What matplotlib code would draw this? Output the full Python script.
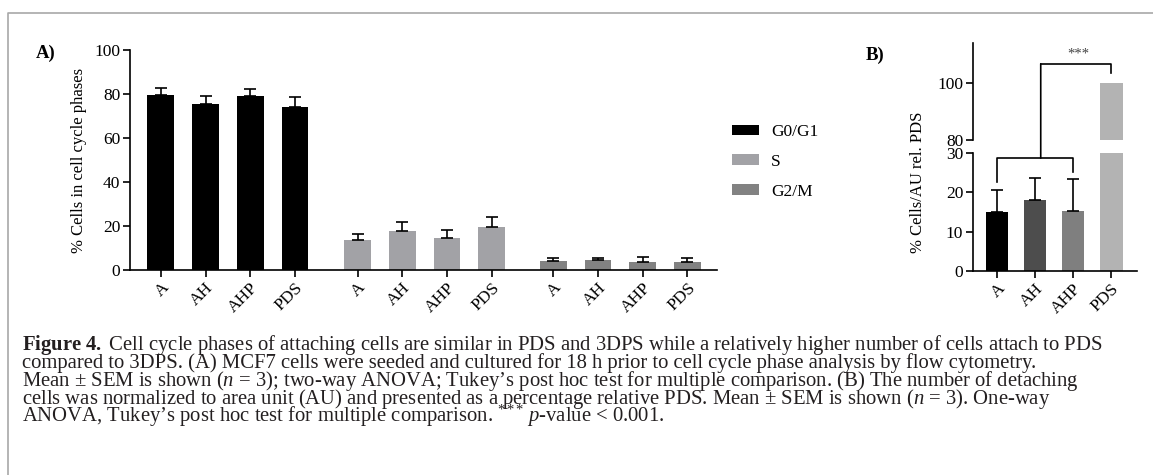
import numpy as np
import matplotlib
matplotlib.use("Agg")
import matplotlib.pyplot as plt
from matplotlib.lines import Line2D
from matplotlib.patches import ConnectionPatch

plt.rcParams["font.family"] = ["Liberation Serif", "DejaVu Serif"]
plt.rcParams["mathtext.fontset"] = "custom"
plt.rcParams["mathtext.rm"] = "Liberation Serif"
plt.rcParams["mathtext.it"] = "Liberation Serif:italic"
plt.rcParams["mathtext.bf"] = "Liberation Serif:bold"

# data
conditions = ["A", "AH", "AHP", "PDS"]
phases = ["G0/G1", "S", "G2/M"]
g0g1_mean = [79.7, 75.6, 78.9, 74.1]
g0g1_sem = [2.9, 3.6, 3.5, 4.4]
s_mean = [13.8, 17.7, 14.7, 19.7]
s_sem = [2.6, 4.3, 3.5, 4.2]
g2m_mean = [4.2, 4.4, 3.8, 3.6]
g2m_sem = [1.1, 1.2, 2.0, 1.7]
phase_colors = ["#000000", "#a2a2a6", "#828282"]

attach_mean = [15.0, 18.0, 15.3, 100.0]
attach_sem = [5.6, 5.6, 8.1, 0.0]
attach_colors = ["#000000", "#4d4d4d", "#7f7f7f", "#b3b3b3"]

caption = [
    r"$\mathbf{Figure\ 4.}$ Cell cycle phases of attaching cells are similar in PDS and 3DPS while a relatively higher number of cells attach to PDS",
    "compared to 3DPS. (A) MCF7 cells were seeded and cultured for 18 h prior to cell cycle phase analysis by flow cytometry.",
    r"Mean ± SEM is shown ($n$ = 3); two-way ANOVA; Tukey’s post hoc test for multiple comparison. (B) The number of detaching",
    r"cells was normalized to area unit (AU) and presented as a percentage relative PDS. Mean ± SEM is shown ($n$ = 3). One-way",
    r"ANOVA, Tukey’s post hoc test for multiple comparison. ${}^{{*}\,{*}\,{*}}$ $p$-value < 0.001.",
]

W, H = 1153, 475
fig = plt.figure(figsize=(W / 100, H / 100), dpi=100)


def box(x0, y0, x1, y1):
    return [x0 / W, 1 - y1 / H, (x1 - x0) / W, (y1 - y0) / H]


def style(ax):
    for s in ["top", "right"]:
        ax.spines[s].set_visible(False)
    for s in ["left", "bottom"]:
        ax.spines[s].set_linewidth(1.2)
    ax.tick_params(width=1.2, length=5, labelsize=12.5, pad=2)


# panel A
axA = fig.add_axes(box(130, 50, 717, 270))
style(axA)
starts = [0, 4.4, 8.78]
means = [g0g1_mean, s_mean, g2m_mean]
sems = [g0g1_sem, s_sem, g2m_sem]
handles = []
ticks = []
for start, m, e, c in zip(starts, means, sems, phase_colors):
    pos = start + np.arange(len(conditions))
    ticks.extend(pos)
    b = axA.bar(pos, m, width=0.6, color=c, zorder=2)
    handles.append(b)
    axA.errorbar(pos, m, yerr=[np.zeros(len(e)), e], fmt="none", ecolor="black",
                 elinewidth=1.2, capsize=4.5, capthick=1.2, zorder=3)
axA.set_xticks(ticks)
axA.set_xticklabels(conditions * 3, rotation=45, ha="right", rotation_mode="anchor")
axA.set_xlim(-0.69, 12.44)
axA.set_ylim(0, 100)
axA.set_yticks([0, 20, 40, 60, 80, 100])
axA.set_ylabel("% Cells in cell cycle phases", fontsize=12, labelpad=5)

fig.legend(handles, phases, loc="upper left", bbox_to_anchor=(732 / W, 1 - 124 / H),
           frameon=False, fontsize=12.5, borderpad=0, borderaxespad=0,
           handlelength=1.55, handleheight=0.57, handletextpad=0.69, labelspacing=0.8)

# panel B, broken axis
axL = fig.add_axes(box(973, 153, 1137, 271))
axU = fig.add_axes(box(973, 43, 1137, 140))
style(axL)
style(axU)
axU.spines["bottom"].set_visible(False)
axU.tick_params(axis="x", bottom=False, labelbottom=False)
xb = np.arange(len(conditions))
for ax in (axL, axU):
    ax.bar(xb, attach_mean, width=0.6, color=attach_colors, zorder=2)
    ax.set_xlim(-0.63, 3.68)
has_err = np.array(attach_sem) > 0
axL.errorbar(xb[has_err], np.array(attach_mean)[has_err],
             yerr=[np.zeros(has_err.sum()), np.array(attach_sem)[has_err]],
             fmt="none", ecolor="black", elinewidth=1.2, capsize=4.5, capthick=1.2, zorder=3)
axL.set_ylim(0, 30)
axL.set_yticks([0, 10, 20, 30])
axU.set_ylim(80, 114)
axU.set_yticks([80, 100])
axL.set_xticks(xb)
axL.set_xticklabels(conditions, rotation=45, ha="right", rotation_mode="anchor")

# significance brackets
lw = 1.2
axL.plot([0, 0, 2, 2], [22.6, 28.7, 28.7, 25.2], color="black", lw=lw, clip_on=False, zorder=4)
mid = 1.15
con = ConnectionPatch(xyA=(mid, 28.7), coordsA=axL.transData,
                      xyB=(mid, 106.7), coordsB=axU.transData, color="black", lw=lw)
fig.add_artist(con)
axU.plot([mid, 3, 3], [106.7, 106.7, 103.4], color="black", lw=lw, clip_on=False, zorder=4)
axU.text(2.13, 108.0, "***", ha="center", va="bottom", fontsize=10.5, color="#444444")

fig.text(918 / W, 1 - 182 / H, "% Cells/AU rel. PDS", rotation=90, ha="center", va="center",
         fontsize=12)

fig.text(36 / W, 1 - 53 / H, "A)", fontsize=13.5, fontweight="bold", va="center", ha="left")
fig.text(866 / W, 1 - 55 / H, "B)", fontsize=13.5, fontweight="bold", va="center", ha="left")

# caption, one text per line at fixed baselines
for i, line in enumerate(caption):
    fig.text(22 / W, 1 - (350 + 18 * i) / H, line, fontsize=14.9, va="baseline", ha="left",
             color="#231f20")

# border
border = "#a8a8a8"
fig.add_artist(Line2D([8 / W, 8 / W, 1], [0, 1 - 13 / H, 1 - 13 / H], color=border, lw=1.2,
                      transform=fig.transFigure))

fig.savefig("out.png", dpi=100)
